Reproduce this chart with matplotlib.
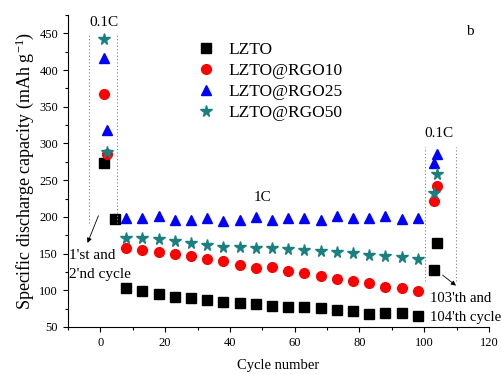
import matplotlib
matplotlib.use("Agg")
import matplotlib.pyplot as plt
from matplotlib.ticker import MultipleLocator

plt.rcParams["font.family"] = ["Liberation Serif", "DejaVu Serif"]
plt.rcParams["mathtext.fontset"] = "custom"
plt.rcParams["mathtext.rm"] = "Liberation Serif"
plt.rcParams["mathtext.it"] = "Liberation Serif:italic"

# cycles at 0.1C (start), 1C, 0.1C (end)
cyc_start = [1, 2]
cyc_1c = [8, 13, 18, 23, 28, 33, 38, 43, 48, 53, 58, 63, 68, 73, 78, 83, 88, 93, 98]
cyc_end = [103, 104]

lzto_start = [273, None]
lzto_c2 = 197  # 2'nd cycle point of LZTO, drawn just outside the box
lzto_c2_x = 4.6
lzto_1c = [103.5, 99.4, 95, 91.2, 89, 86.7, 84.4, 82.2, 80.9, 78.6, 76.8, 76.8,
           75.4, 73, 71.8, 67.7, 69.5, 68.6, 65.4]
lzto_end = [128, 164]

rgo10_start = [368, 285]
rgo10_1c = [157, 154.8, 151.6, 149.3, 146.6, 142.5, 139.8, 134.4, 130.7, 132, 126,
            123, 119.4, 115.3, 112.6, 109.5, 104, 102.6, 99.4]
rgo10_end = [221, 242]

rgo25_start = [416, 318]
rgo25_1c = [198.7, 198.7, 201, 195.6, 195.6, 198, 194.6, 195.6, 200, 195.6, 198.7,
            198.7, 195.6, 201, 198.7, 198.7, 201, 196.5, 198]
rgo25_end = [273, 286]

rgo50_start = [442, 288]
rgo50_1c = [170.7, 170.7, 169.3, 167, 163.9, 161.6, 159.3, 159.3, 157.9, 157.9, 156,
            154.8, 153.4, 152.5, 150.3, 148, 146.6, 145.7, 142.5]
rgo50_end = [232, 258]

labels = ["LZTO", "LZTO@RGO10", "LZTO@RGO25", "LZTO@RGO50"]

fig = plt.figure(figsize=(5.02, 3.74), dpi=100)
ax = fig.add_axes([0.1355, 0.1257, 0.974 - 0.1355, 0.96 - 0.1257])

# LZTO
lx = [cyc_start[0], lzto_c2_x] + cyc_1c + cyc_end
ly = [lzto_start[0], lzto_c2] + lzto_1c + lzto_end
ax.plot(lx, ly, ls="none", marker="s", ms=6.5, color="black", label=labels[0])

series = [
    (rgo10_start, rgo10_1c, rgo10_end, "o", "#ff0000", 7, labels[1]),
    (rgo25_start, rgo25_1c, rgo25_end, "^", "#0000ff", 7.5, labels[2]),
    (rgo50_start, rgo50_1c, rgo50_end, "*", "#1a7f7f", 8.5, labels[3]),
]
for s, m, e, mk, col, ms, lab in series:
    ax.plot(cyc_start + cyc_1c + cyc_end, s + m + e, ls="none", marker=mk,
            ms=ms, color=col, label=lab)

# dotted boxes for 0.1C regions
for xv in (-3.4, 5.2):
    ax.plot([xv, xv], [191, 451], ls=(0, (1, 2)), color="gray", lw=0.8)
for xv in (100.3, 109.8):
    ax.plot([xv, xv], [113, 295], ls=(0, (1, 2)), color="gray", lw=0.8)

ax.text(1, 465, "0.1C", ha="center", va="center", fontsize=11)
ax.text(104.5, 314, "0.1C", ha="center", va="center", fontsize=11)
ax.text(50, 226, "1C", ha="center", va="center", fontsize=11)
ax.text(114, 452, "b", ha="center", va="center", fontsize=11)

ax.text(-9.6, 148, "1'st and", ha="left", va="center", fontsize=11)
ax.text(-9.6, 122, "2'nd cycle", ha="left", va="center", fontsize=11)
ax.annotate("", xy=(-4.3, 161), xytext=(-0.3, 205),
            arrowprops=dict(arrowstyle="-|>", color="black", lw=0.6,
                            mutation_scale=7))

ax.text(101.8, 89, "103'th and", ha="left", va="center", fontsize=10.6)
ax.text(101.8, 63, "104'th cycle", ha="left", va="center", fontsize=10.6)
ax.annotate("", xy=(110.5, 104), xytext=(105, 123),
            arrowprops=dict(arrowstyle="-|>", color="black", lw=0.6,
                            mutation_scale=7))

ax.set_xlim(-10, 120)
ax.set_ylim(50, 475)
ax.xaxis.set_major_locator(MultipleLocator(20))
ax.xaxis.set_minor_locator(MultipleLocator(10))
ax.yaxis.set_major_locator(MultipleLocator(50))
ax.yaxis.set_minor_locator(MultipleLocator(25))
ax.tick_params(which="both", direction="out", labelsize=9, width=0.8)
ax.tick_params(which="major", length=3.6)
ax.tick_params(which="minor", length=2)
ax.spines["top"].set_visible(False)
ax.spines["right"].set_visible(False)

ax.set_xlabel("Cycle number", fontsize=10.5, labelpad=7)
ax.set_ylabel("Specific discharge capacity (mAh g$^{-1}$)", fontsize=13)
ax.yaxis.set_label_coords(-0.075, 0.5)

ax.legend(loc="upper left", bbox_to_anchor=(0.27, 0.965), frameon=False,
          fontsize=12.5, handletextpad=0.8, labelspacing=0.28, handlelength=1.0)

fig.savefig("out.png", dpi=100)
